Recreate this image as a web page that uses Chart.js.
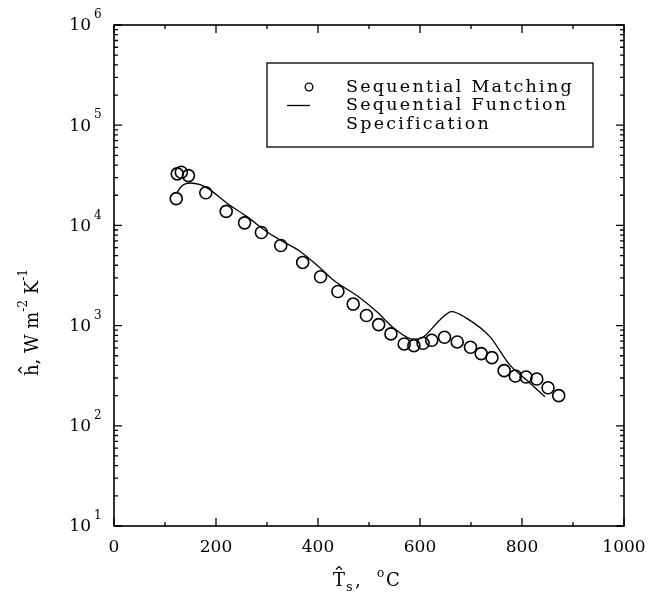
<!DOCTYPE html>
<html>
<head>
<meta charset="utf-8">
<script src="https://cdn.jsdelivr.net/npm/chart.js@4/dist/chart.umd.min.js"></script>
<style>
  body { margin: 0; background: #fff; }
  canvas { display: block; }
</style>
</head>
<body>
<canvas id="hChart" width="660" height="603"></canvas>
<script>
// Sequential matching (circles)
const matchT = [122, 124, 132, 146, 180, 220, 256, 289, 327, 370, 405, 439, 469, 495, 519, 543, 569, 588, 606, 623, 648, 673, 699, 720, 741, 765, 787, 808, 829, 851, 872];
const matchH = [18500, 32700, 33900, 31400, 21200, 13800, 10600, 8500, 6300, 4270, 3070, 2190, 1640, 1260, 1023, 826, 656, 631, 667, 714, 765, 687, 608, 525, 479, 355, 314, 307, 293, 240, 200];

// Sequential function specification (line)
const funcT = [123, 132, 149, 169, 188, 221, 260, 299, 325, 365, 397, 430, 482, 515, 549, 588, 606, 639, 662, 691, 737, 776, 809, 845];
const funcH = [21100, 24500, 26500, 25500, 22750, 16700, 12300, 8710, 7200, 5500, 4050, 2850, 1900, 1380, 942, 731, 765, 1140, 1380, 1186, 776, 405, 286, 195];

const xTicks = [0, 200, 400, 600, 800, 1000];
const yExponents = [1, 2, 3, 4, 5, 6];

const serif = '"DejaVu Serif", "Liberation Serif", serif';

function hat(ctx, cx, cy, w, h) {
  ctx.beginPath();
  ctx.moveTo(cx - w / 2, cy + h / 2);
  ctx.lineTo(cx, cy - h / 2);
  ctx.lineTo(cx + w / 2, cy + h / 2);
  ctx.stroke();
}

const framePlugin = {
  id: 'frame',
  afterDraw(chart) {
    const ctx = chart.ctx;
    const a = chart.chartArea;
    const xs = chart.scales.x, ys = chart.scales.y;
    ctx.save();
    ctx.strokeStyle = '#000';
    ctx.fillStyle = '#000';
    ctx.lineWidth = 1.6;
    ctx.strokeRect(a.left, a.top, a.right - a.left, a.bottom - a.top);

    // x ticks (inside, bottom and top)
    ctx.lineWidth = 1.3;
    for (let v = 0; v <= 1000; v += 100) {
      const px = xs.getPixelForValue(v);
      const len = v % 200 === 0 ? 8 : 4;
      ctx.beginPath();
      ctx.moveTo(px, a.bottom); ctx.lineTo(px, a.bottom - len);
      ctx.moveTo(px, a.top); ctx.lineTo(px, a.top + len);
      ctx.stroke();
    }
    // y ticks (inside, left and right)
    for (let e = 1; e <= 6; e++) {
      for (let m = 1; m <= 9; m++) {
        const v = m * Math.pow(10, e);
        if (v > 1e6) break;
        const py = ys.getPixelForValue(v);
        const len = m === 1 ? 8 : 4;
        ctx.beginPath();
        ctx.moveTo(a.left, py); ctx.lineTo(a.left + len, py);
        ctx.moveTo(a.right, py); ctx.lineTo(a.right - len, py);
        ctx.stroke();
      }
    }

    // x tick labels
    ctx.font = '17px ' + serif;
    ctx.textAlign = 'center';
    ctx.textBaseline = 'middle';
    xTicks.forEach(v => {
      ctx.fillText(String(v), xs.getPixelForValue(v), a.bottom + 22);
    });

    // y tick labels: 10 with superscript exponent
    yExponents.forEach(e => {
      const py = ys.getPixelForValue(Math.pow(10, e));
      ctx.font = '17px ' + serif;
      ctx.textAlign = 'right';
      ctx.fillText('10', a.left - 23, py + 1);
      ctx.font = '12px ' + serif;
      ctx.textAlign = 'left';
      ctx.fillText(String(e), a.left - 20, py - 10);
    });

    // x axis title: T-hat_s, °C
    ctx.textAlign = 'left';
    ctx.lineWidth = 1.2;
    const tx = 333, ty = 581;
    ctx.font = '18px ' + serif;
    ctx.fillText('T', tx, ty);
    hat(ctx, tx + 6, ty - 13, 6, 3);
    ctx.font = '13px ' + serif;
    ctx.fillText('s', tx + 13, ty + 7);
    ctx.font = '18px ' + serif;
    ctx.fillText(',', tx + 22, ty);
    ctx.font = '12px ' + serif;
    ctx.fillText('o', tx + 44, ty - 7);
    ctx.font = '18px ' + serif;
    ctx.fillText('C', tx + 53, ty);

    // y axis title (rotated): h-hat, W m^-2 K^-1
    ctx.save();
    ctx.translate(33, 300);
    ctx.rotate(-Math.PI / 2);
    let cx = -76;
    const piece = (txt, size, dy) => {
      ctx.font = size + 'px ' + serif;
      ctx.fillText(txt, cx, dy);
      cx += ctx.measureText(txt).width;
    };
    hat(ctx, cx + 6, -13, 6, 3);
    piece('h', 18, 0);
    piece(', W m', 18, 0);
    piece('-2', 12, -9);
    piece(' K', 18, 0);
    piece('-1', 12, -9);
    ctx.restore();

    // legend
    ctx.lineWidth = 1.3;
    ctx.strokeRect(267, 63, 326, 84);
    ctx.font = '17.5px ' + serif;
    const lines = ['Sequential Matching', 'Sequential Function', 'Specification'];
    const target = 228;
    const base = ctx.measureText(lines[0]).width;
    const spacing = Math.max(0, (target - base) / lines[0].length);
    ctx.letterSpacing = spacing.toFixed(2) + 'px';
    ctx.textAlign = 'left';
    lines.forEach((t, i) => ctx.fillText(t, 346, 87 + i * 18.5));
    ctx.letterSpacing = '0px';
    ctx.beginPath();
    ctx.arc(309, 87, 3.8, 0, Math.PI * 2);
    ctx.stroke();
    ctx.beginPath();
    ctx.moveTo(287, 105.5); ctx.lineTo(310, 105.5);
    ctx.stroke();
    ctx.restore();
  }
};

new Chart(document.getElementById('hChart'), {
  type: 'scatter',
  data: {
    datasets: [
      {
        label: 'Sequential Matching',
        data: matchT.map((t, i) => ({ x: t, y: matchH[i] })),
        pointStyle: 'circle',
        pointRadius: 6,
        borderColor: '#000',
        backgroundColor: 'rgba(255,255,255,0)',
        borderWidth: 1.6
      },
      {
        label: 'Sequential Function Specification',
        type: 'line',
        data: funcT.map((t, i) => ({ x: t, y: funcH[i] })),
        borderColor: '#000',
        borderWidth: 1.3,
        pointRadius: 0,
        cubicInterpolationMode: 'monotone',
        fill: false
      }
    ]
  },
  options: {
    responsive: false,
    animation: false,
    layout: { padding: { left: 114, right: 36, top: 25, bottom: 77 } },
    plugins: { legend: { display: false }, tooltip: { enabled: false } },
    scales: {
      x: { type: 'linear', min: 0, max: 1000, display: false },
      y: { type: 'logarithmic', min: 10, max: 1e6, display: false }
    }
  },
  plugins: [framePlugin]
});
</script>
</body>
</html>
